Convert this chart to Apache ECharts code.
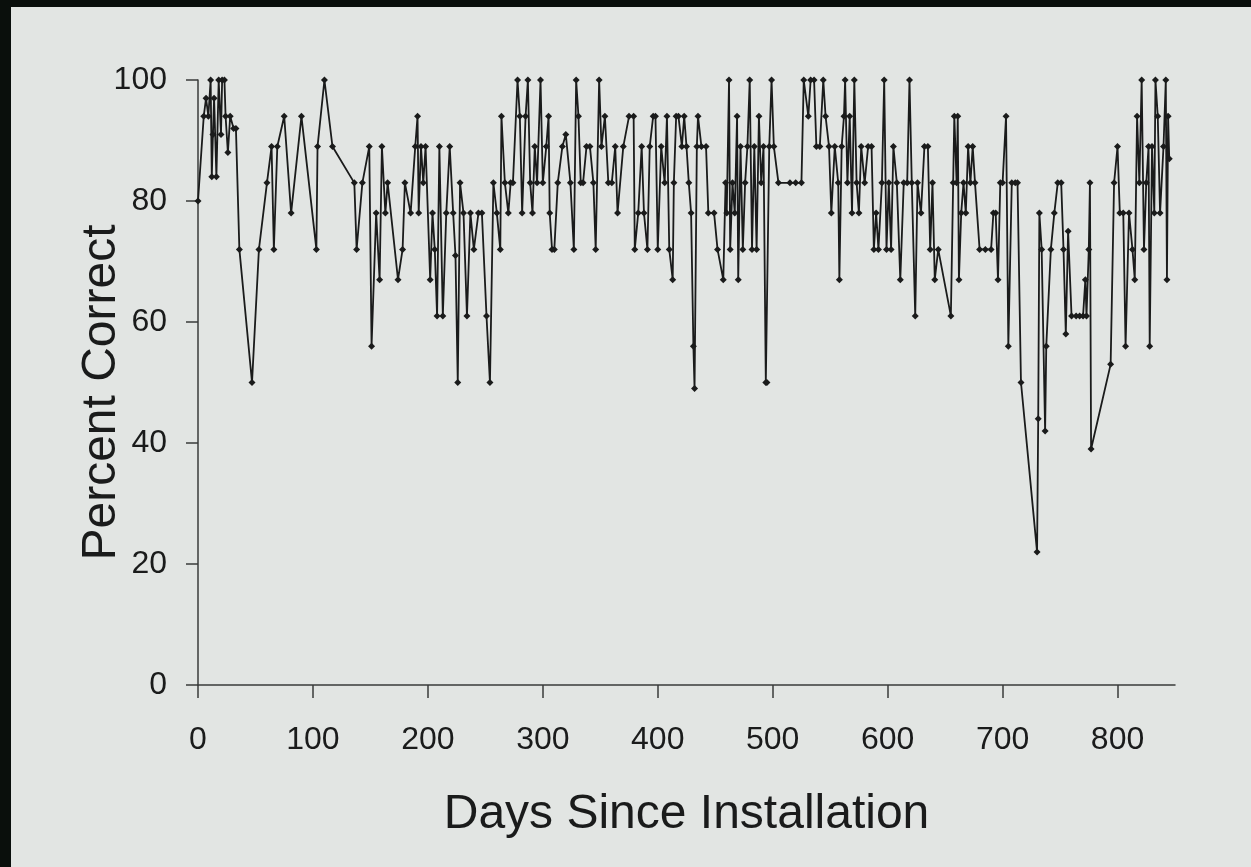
<!DOCTYPE html>
<html>
<head>
<meta charset="utf-8">
<title>Percent Correct</title>
<script src="https://cdn.jsdelivr.net/npm/echarts@6/dist/echarts.min.js"></script>
<style>
    html, body { margin: 0; padding: 0; background: #0a0f0c; }
    #chart {
        position: absolute;
        left: 11px;
        top: 7px;
        width: 1240px;
        height: 860px;
        background: #e2e5e3;
    }
</style>
</head>
<body>
<div id="chart"></div>
<script>
// days since installation and percent correct
const days = [
    0, 5, 7, 9, 11, 12, 13, 14, 16, 18, 20, 21, 23, 24, 26, 28, 31, 33, 36, 47,
    53, 60, 64, 66, 69, 75, 81, 90, 103, 104, 110, 117, 136, 138, 143, 149, 151, 155, 158, 160,
    163, 165, 174, 178, 180, 185, 189, 191, 192, 194, 196, 198, 202, 204, 206, 208, 210, 213, 216, 219,
    222, 224, 226, 228, 231, 234, 237, 240, 244, 247, 251, 254, 257, 260, 263, 264, 267, 270, 272, 274,
    278, 280, 282, 285, 287, 289, 291, 293, 295, 298, 300, 303, 305, 306, 308, 310, 313, 317, 320, 324,
    327, 329, 331, 333, 335, 338, 341, 344, 346, 349, 351, 354, 357, 360, 363, 365, 370, 375, 379, 380,
    383, 386, 388, 391, 393, 396, 398, 400, 403, 406, 408, 410, 413, 414, 416, 418, 421, 423, 425, 427,
    429, 431, 432, 434, 435, 438, 442, 444, 449, 452, 457, 459, 460, 462, 463, 465, 467, 469, 470, 472,
    474, 476, 478, 480, 482, 484, 486, 488, 490, 492, 494, 495, 497, 499, 501, 505, 515, 520, 525, 527,
    531, 533, 536, 538, 541, 544, 546, 549, 551, 554, 557, 558, 560, 562, 563, 565, 567, 569, 571, 573,
    575, 577, 580, 583, 586, 588, 590, 592, 595, 597, 599, 601, 603, 605, 608, 611, 614, 617, 619, 621,
    624, 626, 629, 632, 635, 637, 639, 641, 644, 655, 657, 658, 660, 661, 662, 664, 666, 668, 670, 672,
    674, 676, 680, 685, 690, 692, 694, 696, 698, 700, 703, 705, 708, 711, 713, 716, 730, 731, 732, 734,
    737, 738, 742, 745, 748, 751, 753, 755, 757, 760, 764, 767, 770, 772, 773, 775, 776, 777, 794, 797,
    800, 802, 805, 807, 810, 813, 815, 817, 819, 821, 823, 825, 827, 828, 830, 832, 833, 835, 837, 840,
    842, 843, 844, 845
];
const pct = [
    80, 94, 97, 94, 100, 84, 91, 97, 84, 100, 91, 100, 100, 94, 88, 94, 92, 92, 72, 50,
    72, 83, 89, 72, 89, 94, 78, 94, 72, 89, 100, 89, 83, 72, 83, 89, 56, 78, 67, 89,
    78, 83, 67, 72, 83, 78, 89, 94, 78, 89, 83, 89, 67, 78, 72, 61, 89, 61, 78, 89,
    78, 71, 50, 83, 78, 61, 78, 72, 78, 78, 61, 50, 83, 78, 72, 94, 83, 78, 83, 83,
    100, 94, 78, 94, 100, 83, 78, 89, 83, 100, 83, 89, 94, 78, 72, 72, 83, 89, 91, 83,
    72, 100, 94, 83, 83, 89, 89, 83, 72, 100, 89, 94, 83, 83, 89, 78, 89, 94, 94, 72,
    78, 89, 78, 72, 89, 94, 94, 72, 89, 83, 94, 72, 67, 83, 94, 94, 89, 94, 89, 83,
    78, 56, 49, 89, 94, 89, 89, 78, 78, 72, 67, 83, 78, 100, 72, 83, 78, 94, 67, 89,
    72, 83, 89, 100, 72, 89, 72, 94, 83, 89, 50, 50, 89, 100, 89, 83, 83, 83, 83, 100,
    94, 100, 100, 89, 89, 100, 94, 89, 78, 89, 83, 67, 89, 94, 100, 83, 94, 78, 100, 83,
    78, 89, 83, 89, 89, 72, 78, 72, 83, 100, 72, 83, 72, 89, 83, 67, 83, 83, 100, 83,
    61, 83, 78, 89, 89, 72, 83, 67, 72, 61, 83, 94, 83, 94, 67, 78, 83, 78, 89, 83,
    89, 83, 72, 72, 72, 78, 78, 67, 83, 83, 94, 56, 83, 83, 83, 50, 22, 44, 78, 72,
    42, 56, 72, 78, 83, 83, 72, 58, 75, 61, 61, 61, 61, 67, 61, 72, 83, 39, 53, 83,
    89, 78, 78, 56, 78, 72, 67, 94, 83, 100, 72, 83, 89, 56, 89, 78, 100, 94, 78, 89,
    100, 67, 94, 87
];
const xTicks = [0, 100, 200, 300, 400, 500, 600, 700, 800];

const points = days.map((d, i) => [d, pct[i]]);

const chart = echarts.init(document.getElementById('chart'));
const ink = '#1a1b1b';
const font = 'Liberation Sans, Arial, sans-serif';

chart.setOption({
    animation: false,
    backgroundColor: '#e2e5e3',
    grid: { left: 187, right: 76, top: 73, bottom: 182 },
    xAxis: {
        type: 'value',
        min: 0,
        max: 850,
        interval: 100,
        name: 'Days Since Installation',
        nameLocation: 'middle',
        nameGap: 106,
        nameMoveOverlap: false,
        nameTextStyle: { fontFamily: font, fontSize: 48, color: ink },
        splitLine: { show: false },
        axisLine: { show: true, lineStyle: { color: '#3a3b3b', width: 1.5 } },
        axisTick: { show: true, length: 13, customValues: xTicks, lineStyle: { color: '#3a3b3b', width: 1.5 } },
        axisLabel: { customValues: xTicks, margin: 39, fontFamily: font, fontSize: 32, color: ink }
    },
    yAxis: {
        type: 'value',
        min: 0,
        max: 100,
        interval: 20,
        name: 'Percent Correct',
        nameLocation: 'middle',
        nameGap: 72,
        nameMoveOverlap: false,
        nameTextStyle: { fontFamily: font, fontSize: 48, color: ink, padding: [0, 20, 0, 0] },
        splitLine: { show: false },
        axisLine: { show: true, lineStyle: { color: '#3a3b3b', width: 1.5 } },
        axisTick: { show: true, length: 12, lineStyle: { color: '#3a3b3b', width: 1.5 } },
        axisLabel: { margin: 31, fontFamily: font, fontSize: 32, color: ink }
    },
    series: [{
        type: 'line',
        data: points,
        symbol: 'diamond',
        symbolSize: 7,
        itemStyle: { color: ink },
        lineStyle: { color: ink, width: 1.8 }
    }]
});
</script>
</body>
</html>
